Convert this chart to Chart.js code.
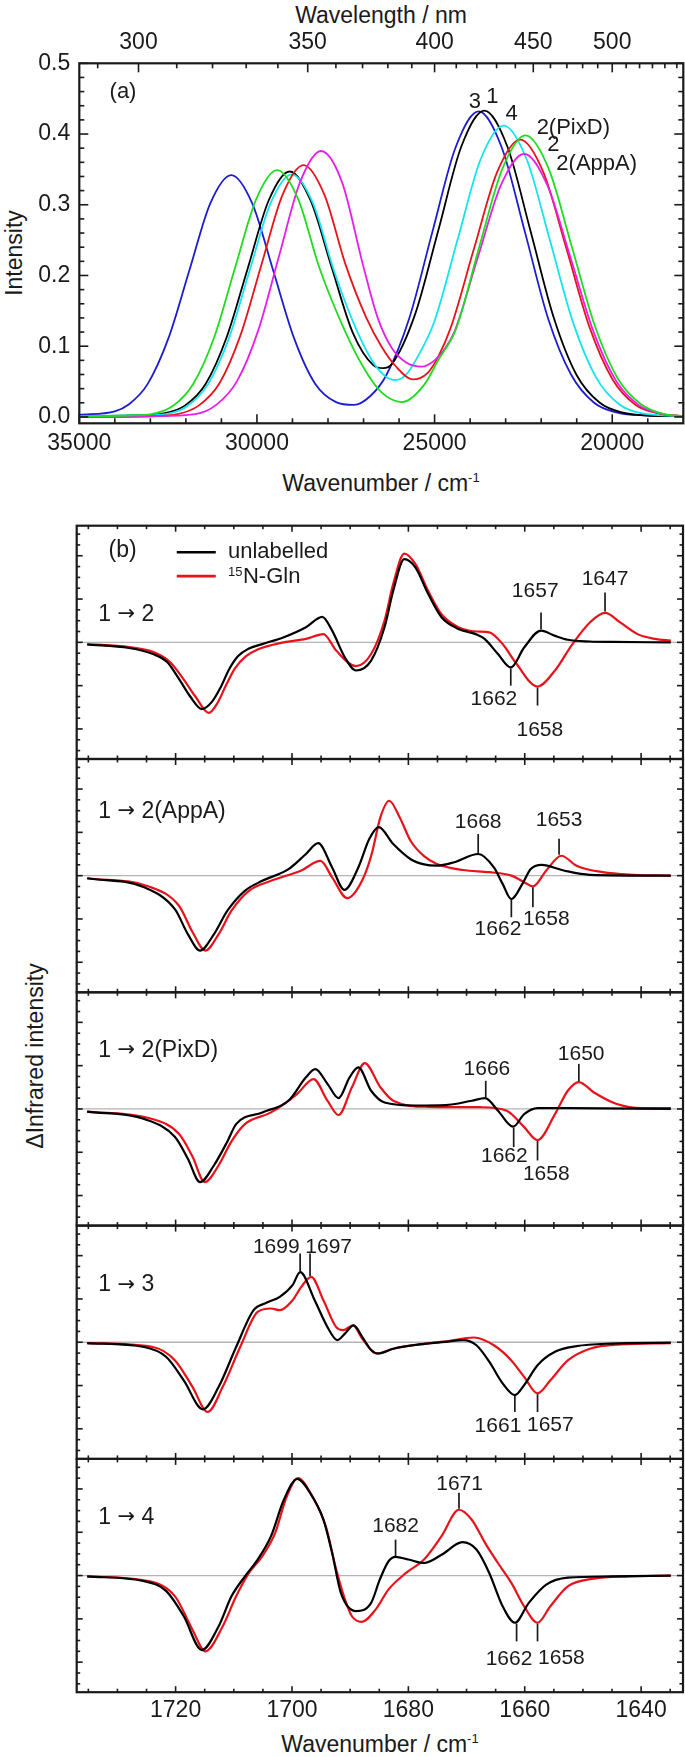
<!DOCTYPE html>
<html><head><meta charset="utf-8">
<script src="https://cdn.jsdelivr.net/npm/chart.js@4.4.1/dist/chart.umd.min.js"></script>
<style>
html,body{margin:0;padding:0;background:#fff;}
body{width:685px;height:1757px;position:relative;overflow:hidden;font-family:"Liberation Sans",Arial,Helvetica,sans-serif;color:#1a1a1a;}
canvas{position:absolute;left:0;}
.t{position:absolute;font-size:23px;line-height:1;white-space:nowrap;transform:translate(-50%,-50%);}
.r{transform:translate(-50%,-50%) rotate(-90deg);}
sup{font-size:13px;vertical-align:9px;line-height:0;}
</style></head><body>
<div class="t" style="left:381px;top:15px;">Wavelength / nm</div>
<div class="t" style="left:381px;top:483px;">Wavenumber / cm<sup>-1</sup></div>
<div class="t r" style="left:14px;top:253px;">Intensity</div>
<div class="t r" style="left:35px;top:1056px;">ΔInfrared intensity</div>
<div class="t" style="left:380px;top:1744px;">Wavenumber / cm<sup>-1</sup></div>
<script>
const FONT = '"Liberation Sans", Arial, Helvetica, sans-serif';
const ARROW_FONT = '"DejaVu Sans", "Liberation Sans", sans-serif';
const INK = '#1a1a1a';

// ================= Panel (a): UV-vis spectra [wavenumber, intensity] =================
const state3 = [[35000,0.003],[34000,0.008],[33600,0.018],[33083,0.046],[32493,0.111],[31903,0.207],[31313,0.302],[30723,0.342],[30133,0.302],[29543,0.207],[28953,0.111],[28363,0.047],[27773,0.021],[27272,0.017],[26800,0.03],[26360,0.059],[25710,0.140],[25060,0.262],[24410,0.381],[23760,0.432],[23110,0.381],[22460,0.262],[21810,0.140],[21160,0.060],[20510,0.02],[19860,0.006],[19000,0.002],[18000,0.001]];
const state1 = [[35000,0.001],[33500,0.002],[32620,0.005],[32030,0.016],[31440,0.047],[30850,0.113],[30260,0.21],[29670,0.306],[29080,0.347],[28490,0.306],[27900,0.212],[27310,0.12],[26720,0.073],[26450,0.069],[26200,0.075],[25550,0.145],[24900,0.263],[24250,0.382],[23600,0.433],[22950,0.382],[22300,0.263],[21650,0.141],[21000,0.059],[20350,0.02],[19700,0.006],[19000,0.002],[18000,0.001]];
const state4 = [[35000,0.001],[33500,0.002],[32560,0.004],[31970,0.015],[31380,0.046],[30790,0.111],[30200,0.208],[29610,0.303],[29020,0.343],[28430,0.303],[27840,0.208],[27300,0.135],[26800,0.083],[26400,0.058],[26101,0.052],[25800,0.06],[25400,0.092],[25006,0.135],[24356,0.25],[23706,0.364],[23056,0.412],[22406,0.364],[21756,0.25],[21106,0.134],[20456,0.056],[19806,0.018],[19156,0.005],[18000,0.001]];
const state2 = [[35000,0.0],[33000,0.001],[32230,0.004],[31640,0.016],[31050,0.048],[30460,0.116],[29870,0.216],[29280,0.314],[28690,0.356],[28100,0.314],[27510,0.216],[26920,0.14],[26500,0.1],[26100,0.072],[25610,0.053],[25200,0.062],[24900,0.085],[24540,0.127],[23890,0.238],[23240,0.346],[22590,0.392],[21940,0.346],[21290,0.238],[20640,0.127],[19990,0.053],[19340,0.017],[18690,0.005],[18000,0.001]];
const state2AppA = [[35000,0.0],[33000,0.001],[31736,0.004],[31146,0.017],[30556,0.051],[29966,0.122],[29376,0.228],[28786,0.332],[28196,0.376],[27606,0.332],[27016,0.215],[26600,0.14],[26200,0.097],[25800,0.077],[25361,0.071],[25000,0.08],[24700,0.097],[24437,0.121],[23780,0.226],[23130,0.328],[22480,0.372],[21830,0.328],[21180,0.226],[20530,0.121],[19880,0.05],[19230,0.016],[18580,0.004],[18000,0.001]];
const state2PixD = [[35000,0.001],[33600,0.002],[32970,0.004],[32380,0.015],[31790,0.047],[31200,0.113],[30610,0.212],[30020,0.308],[29430,0.349],[28840,0.308],[28250,0.212],[27518,0.121],[27000,0.07],[26500,0.035],[25916,0.021],[25300,0.045],[24900,0.08],[24390,0.125],[23740,0.241],[23090,0.351],[22440,0.398],[21790,0.351],[21140,0.241],[20490,0.129],[19840,0.054],[19190,0.018],[18540,0.004],[18000,0.001]];

const wavenumberMajorA = [35000,30000,25000,20000];
const wavenumberMinorA = [34000,33000,32000,31000,29000,28000,27000,26000,24000,23000,22000,21000,19000,18000];
const wavelengthMajor = [300,350,400,450,500];
const wavelengthMinor = [290,310,320,330,340,360,370,380,390,410,420,430,440,460,470,480,490,510,520,530,540,550];
const intensityMajor = [0.0,0.1,0.2,0.3,0.4,0.5];
const intensityMajorLabels = ['0.0','0.1','0.2','0.3','0.4','0.5'];
const intensityMinor = [0.02,0.04,0.06,0.08,0.12,0.14,0.16,0.18,0.22,0.24,0.26,0.28,0.32,0.34,0.36,0.38,0.42,0.44,0.46,0.48];
const panelALabels = [
  {x:33770,y:0.459,t:'(a)'},
  {x:23863,y:0.445,t:'3'},
  {x:23376,y:0.452,t:'1'},
  {x:22830,y:0.429,t:'4'},
  {x:21096,y:0.408,t:'2(PixD)'},
  {x:21659,y:0.384,t:'2'},
  {x:20438,y:0.358,t:'2(AppA)'}
];

// ================= Panel (b): difference IR spectra [wavenumber, ΔIR] =================
const t12_unlab = [[1735.2,-0.05],[1728.0,-0.13],[1723.9,-0.27],[1721.5,-0.45],[1719.4,-0.85],[1717.5,-1.25],[1715.5,-1.54],[1713.8,-1.38],[1712.3,-1.05],[1710.8,-0.62],[1709.3,-0.32],[1707.5,-0.15],[1705.1,-0.04],[1701.4,0.12],[1697.6,0.35],[1694.8,0.59],[1693.1,0.27],[1690.9,-0.35],[1689.0,-0.65],[1686.4,-0.42],[1684.1,0.35],[1682.6,1.19],[1680.7,1.92],[1678.8,1.73],[1676.6,1.12],[1674.3,0.58],[1671.4,0.31],[1668.4,0.19],[1666.9,0.08],[1664.6,-0.27],[1662.4,-0.58],[1660.1,-0.12],[1657.2,0.27],[1654.8,0.15],[1652.6,0.06],[1648.8,0.02],[1645.0,0.01],[1634.9,0.0]];
const t12_15N = [[1735.2,-0.04],[1728.0,-0.11],[1723.9,-0.22],[1721.0,-0.45],[1718.8,-0.82],[1716.6,-1.25],[1714.3,-1.63],[1712.8,-1.4],[1711.3,-0.98],[1709.8,-0.6],[1708.0,-0.33],[1706.0,-0.17],[1701.4,0.0],[1697.6,0.08],[1694.6,0.19],[1692.4,-0.19],[1689.0,-0.55],[1686.4,-0.27],[1684.1,0.5],[1682.6,1.35],[1680.7,2.05],[1678.8,1.81],[1676.6,1.19],[1674.3,0.65],[1671.4,0.35],[1668.3,0.25],[1666.1,0.23],[1663.8,-0.04],[1661.6,-0.46],[1657.8,-1.02],[1654.8,-0.65],[1651.8,-0.04],[1648.8,0.46],[1646.2,0.68],[1643.6,0.46],[1640.6,0.19],[1637.6,0.08],[1634.9,0.04]];

const t12A_unlab = [[1735.2,-0.06],[1725.4,-0.27],[1720.1,-0.78],[1717.9,-1.35],[1715.8,-1.73],[1713.4,-1.35],[1711.1,-0.81],[1708.1,-0.35],[1705.1,-0.12],[1700.6,0.15],[1697.6,0.5],[1695.5,0.75],[1693.1,0.19],[1691.0,-0.33],[1688.6,0.19],[1686.7,0.85],[1685.1,1.12],[1682.6,0.73],[1679.6,0.38],[1677.3,0.26],[1675.1,0.23],[1672.1,0.31],[1668.0,0.5],[1665.3,0.19],[1663.8,-0.19],[1662.3,-0.54],[1660.4,-0.19],[1659.0,0.15],[1657.1,0.25],[1653.3,0.12],[1648.8,0.02],[1634.9,0.0]];
const t12A_15N = [[1735.2,-0.06],[1724.6,-0.25],[1719.4,-0.7],[1717.1,-1.3],[1714.9,-1.73],[1712.6,-1.35],[1710.4,-0.81],[1707.4,-0.35],[1703.6,-0.12],[1698.4,0.12],[1695.1,0.34],[1693.1,-0.04],[1690.5,-0.52],[1687.9,-0.1],[1686.3,0.5],[1684.8,1.35],[1683.3,1.73],[1681.5,1.35],[1679.6,0.8],[1677.3,0.45],[1675.1,0.27],[1670.6,0.13],[1666.1,0.08],[1662.3,0.0],[1660.1,-0.15],[1658.6,-0.25],[1656.3,0.12],[1653.7,0.46],[1651.1,0.23],[1646.6,0.08],[1641.3,0.02],[1634.9,0.0]];

const t12P_unlab = [[1735.2,-0.06],[1725.4,-0.23],[1720.1,-0.65],[1717.9,-1.15],[1715.8,-1.69],[1713.4,-1.3],[1711.1,-0.75],[1709.6,-0.35],[1705.1,-0.08],[1700.6,0.19],[1697.6,0.73],[1696.0,0.92],[1693.9,0.58],[1692.0,0.25],[1690.1,0.73],[1688.6,0.96],[1686.4,0.42],[1684.1,0.15],[1678.8,0.08],[1673.6,0.09],[1669.1,0.19],[1666.8,0.25],[1664.6,-0.04],[1662.0,-0.41],[1660.1,-0.12],[1657.8,0.02],[1652.6,0.02],[1634.9,0.0]];
const t12P_15N = [[1735.2,-0.06],[1724.6,-0.21],[1719.4,-0.58],[1717.1,-1.1],[1715.0,-1.69],[1712.6,-1.3],[1710.4,-0.75],[1708.1,-0.35],[1703.6,-0.08],[1699.1,0.35],[1696.3,0.69],[1693.9,0.19],[1692.0,-0.14],[1689.7,0.5],[1687.5,1.06],[1684.8,0.5],[1682.6,0.19],[1676.6,0.05],[1667.6,0.04],[1663.1,-0.04],[1660.1,-0.42],[1657.8,-0.72],[1654.8,-0.12],[1652.6,0.42],[1650.7,0.62],[1648.1,0.38],[1644.3,0.12],[1639.8,0.02],[1634.9,0.02]];

const t13_unlab = [[1735.2,-0.02],[1725.4,-0.11],[1721.6,-0.34],[1718.6,-0.88],[1715.3,-1.55],[1712.6,-1.03],[1709.6,-0.11],[1706.6,0.74],[1704.4,0.91],[1702.1,1.05],[1699.9,1.32],[1698.6,1.62],[1696.1,0.97],[1693.9,0.35],[1692.2,0.05],[1690.9,0.2],[1689.4,0.39],[1687.9,0.12],[1686.4,-0.18],[1685.2,-0.26],[1682.6,-0.15],[1678.1,-0.05],[1673.6,0.01],[1670.6,0.05],[1668.3,-0.07],[1666.1,-0.45],[1663.8,-0.95],[1661.7,-1.22],[1660.1,-0.99],[1657.8,-0.53],[1654.8,-0.22],[1651.1,-0.09],[1645.1,-0.03],[1634.9,-0.01]];
const t13_15N = [[1735.2,-0.02],[1723.9,-0.11],[1720.1,-0.42],[1717.1,-1.03],[1714.5,-1.61],[1711.9,-1.03],[1708.9,-0.11],[1705.9,0.7],[1703.6,0.78],[1702.1,0.74],[1699.9,0.97],[1698.4,1.28],[1696.7,1.51],[1694.6,0.97],[1692.4,0.35],[1691.2,0.28],[1689.5,0.39],[1687.9,0.08],[1685.5,-0.26],[1682.6,-0.15],[1678.1,-0.05],[1673.6,0.02],[1668.7,0.11],[1665.3,-0.07],[1662.3,-0.42],[1660.1,-0.8],[1657.8,-1.18],[1655.6,-0.88],[1652.6,-0.42],[1648.8,-0.15],[1643.6,-0.05],[1634.9,-0.02]];

const t14_unlab = [[1735.2,-0.02],[1725.4,-0.13],[1721.6,-0.36],[1718.6,-0.94],[1715.5,-1.72],[1712.6,-1.17],[1710.4,-0.48],[1708.1,-0.02],[1705.9,0.37],[1703.6,0.91],[1701.4,1.75],[1699.1,2.23],[1696.9,1.91],[1694.6,1.29],[1693.1,0.52],[1691.6,-0.4],[1689.0,-0.82],[1686.4,-0.63],[1684.9,-0.09],[1683.4,0.33],[1682.2,0.43],[1680.0,0.37],[1677.3,0.29],[1674.3,0.48],[1670.7,0.77],[1668.3,0.6],[1666.1,0.06],[1663.8,-0.71],[1661.7,-1.09],[1659.3,-0.63],[1656.3,-0.21],[1652.6,-0.05],[1645.0,-0.02],[1634.9,0.0]];
const t14_15N = [[1735.2,-0.02],[1724.6,-0.13],[1720.1,-0.48],[1717.1,-1.25],[1714.9,-1.75],[1711.9,-1.17],[1709.6,-0.48],[1707.4,0.06],[1705.1,0.45],[1702.9,0.98],[1701.0,1.79],[1699.0,2.25],[1696.5,1.83],[1694.2,1.14],[1692.4,0.14],[1690.9,-0.55],[1689.7,-0.94],[1688.0,-1.07],[1685.6,-0.78],[1683.4,-0.32],[1680.4,0.06],[1677.3,0.37],[1674.3,0.91],[1671.3,1.52],[1669.1,1.29],[1666.8,0.75],[1664.6,0.29],[1662.3,-0.17],[1660.1,-0.71],[1657.8,-1.09],[1655.6,-0.71],[1652.6,-0.25],[1648.1,-0.07],[1642.1,-0.02],[1634.9,0.0]];

const irMajor = [1720,1700,1680,1660,1640];
const irMajorLabels = ['1720','1700','1680','1660','1640'];
const irMinor = [1735,1730,1725,1715,1710,1705,1695,1690,1685,1675,1670,1665,1655,1650,1645,1635];
const dIRMajor = [-2,-1,0,1,2];
const dIRMinor = [-2.5,-2.25,-1.75,-1.5,-1.25,-0.75,-0.5,-0.25,0.25,0.5,0.75,1.25,1.5,1.75,2.25,2.5];

const transitionFrom = ['1','1','1','1','1'];
const transitionTo = ['2','2(AppA)','2(PixD)','3','4'];
const transitionLabelY = [0.65,1.48,1.35,1.32,1.33];
const peakMarks = [
  [{x:1657.2,y0:0.30,y1:0.69,lx:1658.2,ly:1.17,t:'1657'},{x:1646.2,y0:0.71,y1:1.15,lx:1646.2,ly:1.46,t:'1647'},{x:1662.4,y0:-0.6,y1:-1.0,lx:1665.3,ly:-1.31,t:'1662'},{x:1657.8,y0:-1.04,y1:-1.46,lx:1657.4,ly:-2.04,t:'1658'}],
  [{x:1668.0,y0:0.52,y1:0.96,lx:1668.0,ly:1.23,t:'1668'},{x:1654.1,y0:0.48,y1:0.85,lx:1654.1,ly:1.27,t:'1653'},{x:1662.3,y0:-0.56,y1:-0.96,lx:1664.6,ly:-1.23,t:'1662'},{x:1658.6,y0:-0.27,y1:-0.73,lx:1656.3,ly:-1.0,t:'1658'}],
  [{x:1666.7,y0:0.27,y1:0.65,lx:1666.5,ly:0.92,t:'1666'},{x:1650.7,y0:0.64,y1:1.04,lx:1650.3,ly:1.27,t:'1650'},{x:1661.9,y0:-0.43,y1:-0.88,lx:1663.5,ly:-1.08,t:'1662'},{x:1657.8,y0:-0.74,y1:-1.19,lx:1656.3,ly:-1.5,t:'1658'}],
  [{x:1698.6,y0:1.64,y1:2.05,lx:1702.7,ly:2.2,t:'1699'},{x:1696.9,y0:1.53,y1:2.05,lx:1693.7,ly:2.2,t:'1697'},{x:1661.7,y0:-1.24,y1:-1.61,lx:1664.6,ly:-1.95,t:'1661'},{x:1657.8,y0:-1.2,y1:-1.61,lx:1655.6,ly:-1.92,t:'1657'}],
  [{x:1682.2,y0:0.45,y1:0.83,lx:1682.2,ly:1.14,t:'1682'},{x:1671.3,y0:1.54,y1:1.91,lx:1671.2,ly:2.12,t:'1671'},{x:1661.4,y0:-1.11,y1:-1.52,lx:1662.7,ly:-1.94,t:'1662'},{x:1657.8,y0:-1.11,y1:-1.52,lx:1653.7,ly:-1.9,t:'1658'}]
];

// ================= helpers =================
const toXY = a => a.map(p => ({x:p[0], y:p[1]}));
function addCanvas(top, h){
  const c = document.createElement('canvas');
  c.width = 685; c.height = h;
  c.style.top = top + 'px'; c.style.width = '685px'; c.style.height = h + 'px';
  document.body.appendChild(c);
  return c;
}
function line(ctx, x0, y0, x1, y1){ ctx.beginPath(); ctx.moveTo(x0,y0); ctx.lineTo(x1,y1); ctx.stroke(); }
function ds(data, color, w){ return {data: toXY(data), borderColor: color, borderWidth: w, pointRadius: 0, fill: false, cubicInterpolationMode: 'monotone'}; }
function baseOptions(pad, xmin, xmax, ymin, ymax){
  return {
    responsive:false, maintainAspectRatio:false, animation:false, devicePixelRatio:1,
    layout:{padding:pad},
    plugins:{legend:{display:false}, tooltip:{enabled:false}},
    scales:{
      x:{type:'linear', min:xmin, max:xmax, reverse:true, display:false},
      y:{type:'linear', min:ymin, max:ymax, display:false}
    }
  };
}

// ================= Panel (a) chart =================
(function(){
  const H = 500;
  const cv = addCanvas(0, H);
  const pad = {left:79.3, right:685-683.3, top:63.3, bottom:H-423.3};
  const frame = {
    id:'frameA',
    afterDraw(chart){
      const ctx = chart.ctx, a = chart.chartArea, xs = chart.scales.x, ys = chart.scales.y;
      ctx.save();
      ctx.strokeStyle = INK; ctx.lineWidth = 1.6;
      wavenumberMajorA.forEach(v => { const p = xs.getPixelForValue(v); line(ctx,p,a.bottom,p,a.bottom-9); });
      wavenumberMinorA.forEach(v => { const p = xs.getPixelForValue(v); if(p<a.right-1) line(ctx,p,a.bottom,p,a.bottom-5); });
      wavelengthMajor.forEach(v => { const p = xs.getPixelForValue(1e7/v); line(ctx,p,a.top,p,a.top+9); });
      wavelengthMinor.forEach(v => { const p = xs.getPixelForValue(1e7/v); if(p<a.right-1) line(ctx,p,a.top,p,a.top+5); });
      intensityMajor.forEach(v => { const p = ys.getPixelForValue(v); line(ctx,a.left,p,a.left+9,p); line(ctx,a.right,p,a.right-9,p); });
      intensityMinor.forEach(v => { const p = ys.getPixelForValue(v); line(ctx,a.left,p,a.left+5,p); line(ctx,a.right,p,a.right-5,p); });
      ctx.lineWidth = 2.2;
      ctx.strokeRect(a.left, a.top, a.right-a.left, a.bottom-a.top);
      ctx.fillStyle = INK; ctx.font = '23px ' + FONT; ctx.textBaseline = 'middle';
      ctx.textAlign = 'center';
      wavenumberMajorA.forEach(v => ctx.fillText(String(v), xs.getPixelForValue(v), a.bottom + 20));
      wavelengthMajor.forEach(v => ctx.fillText(String(v), xs.getPixelForValue(1e7/v), a.top - 20.6));
      ctx.textAlign = 'right';
      intensityMajor.forEach((v,i) => ctx.fillText(intensityMajorLabels[i], a.left - 9, ys.getPixelForValue(v)));
      ctx.textAlign = 'center';
      ctx.font = '22px ' + FONT;
      panelALabels.forEach(l => ctx.fillText(l.t, xs.getPixelForValue(l.x), ys.getPixelForValue(l.y)));
      ctx.restore();
    }
  };
  new Chart(cv, {
    type:'line',
    data:{datasets:[
      ds(state2PixD,'#1fdc1f',1.8),
      ds(state2AppA,'#e81ee8',1.8),
      ds(state2,'#e8121a',1.8),
      ds(state4,'#14e4ee',1.8),
      ds(state1,'#000000',1.8),
      ds(state3,'#1c1cd2',1.8)
    ]},
    options: baseOptions(pad, 18000, 35000, -0.009, 0.5),
    plugins:[frame]
  });
})();

// ================= Panel (b) charts =================
const panelData = [
  [t12_unlab, t12_15N],
  [t12A_unlab, t12A_15N],
  [t12P_unlab, t12P_15N],
  [t13_unlab, t13_15N],
  [t14_unlab, t14_15N]
];
const PB_TOP = 525.7, PB_H = 233.3, PB_LEFT = 76.7, PB_RIGHT = 683.0;
const DMAX = 2.694;

panelData.forEach((pair, i) => {
  const top = PB_TOP + i*PB_H, bottom = top + PB_H;
  const cTop = Math.floor(top) - 8;
  const cBottom = (i === 4) ? 1757 : Math.ceil(bottom) + 8;
  const H = cBottom - cTop;
  const cv = addCanvas(cTop, H);
  const pad = {left:PB_LEFT, right:685-PB_RIGHT, top: top - cTop, bottom: cBottom - bottom};
  const zero = {
    id:'zero'+i,
    beforeDatasetsDraw(chart){
      const ctx = chart.ctx, a = chart.chartArea, ys = chart.scales.y;
      ctx.save(); ctx.strokeStyle = '#b4b4b4'; ctx.lineWidth = 1.3;
      const z = ys.getPixelForValue(0); line(ctx, a.left, z, a.right, z);
      ctx.restore();
    }
  };
  const frame = {
    id:'frameB'+i,
    afterDraw(chart){
      const ctx = chart.ctx, a = chart.chartArea, xs = chart.scales.x, ys = chart.scales.y;
      ctx.save();
      ctx.strokeStyle = INK; ctx.lineWidth = 1.6;
      irMajor.forEach(v => { const p = xs.getPixelForValue(v); line(ctx,p,a.bottom,p,a.bottom-6); line(ctx,p,a.top,p,a.top+6); });
      irMinor.forEach(v => { const p = xs.getPixelForValue(v); line(ctx,p,a.bottom,p,a.bottom-3.5); line(ctx,p,a.top,p,a.top+3.5); });
      dIRMajor.forEach(v => { const p = ys.getPixelForValue(v); line(ctx,a.left,p,a.left+6,p); line(ctx,a.right,p,a.right-6,p); });
      dIRMinor.forEach(v => { const p = ys.getPixelForValue(v); line(ctx,a.left,p,a.left+3.5,p); line(ctx,a.right,p,a.right-3.5,p); });
      ctx.lineWidth = 2.2;
      ctx.strokeRect(a.left, a.top, a.right-a.left, a.bottom-a.top);
      // peak markers
      ctx.lineWidth = 1.7; ctx.strokeStyle = INK;
      ctx.fillStyle = INK; ctx.textBaseline = 'middle'; ctx.textAlign = 'center';
      ctx.font = '21px ' + FONT;
      peakMarks[i].forEach(m => {
        const px = xs.getPixelForValue(m.x);
        line(ctx, px, ys.getPixelForValue(m.y0), px, ys.getPixelForValue(m.y1));
        ctx.fillText(m.t, xs.getPixelForValue(m.lx), ys.getPixelForValue(m.ly));
      });
      // transition label: "1 → X"
      ctx.textAlign = 'left';
      let lx = xs.getPixelForValue(1733.3);
      const ly = ys.getPixelForValue(transitionLabelY[i]);
      ctx.font = '23px ' + FONT;
      ctx.fillText(transitionFrom[i] + ' ', lx, ly);
      lx += ctx.measureText(transitionFrom[i] + ' ').width;
      ctx.font = '21px ' + ARROW_FONT;
      ctx.fillText('\u2192', lx, ly);
      lx += ctx.measureText('\u2192').width;
      ctx.font = '23px ' + FONT;
      ctx.fillText(' ' + transitionTo[i], lx, ly);
      if (i === 0) {
        ctx.textAlign = 'center';
        ctx.fillText('(b)', xs.getPixelForValue(1729.1), ys.getPixelForValue(2.12));
        ctx.lineWidth = 2.6;
        ctx.strokeStyle = '#000';
        line(ctx, xs.getPixelForValue(1719.8), ys.getPixelForValue(2.08), xs.getPixelForValue(1713.1), ys.getPixelForValue(2.08));
        ctx.strokeStyle = '#e8121a';
        line(ctx, xs.getPixelForValue(1719.8), ys.getPixelForValue(1.53), xs.getPixelForValue(1713.1), ys.getPixelForValue(1.53));
        ctx.textAlign = 'left';
        const tx = xs.getPixelForValue(1711.0);
        ctx.font = '22px ' + FONT;
        ctx.fillText('unlabelled', tx, ys.getPixelForValue(2.08));
        const yy = ys.getPixelForValue(1.5);
        ctx.font = '13px ' + FONT;
        ctx.fillText('15', tx, yy - 5);
        const w = ctx.measureText('15').width;
        ctx.font = '22px ' + FONT;
        ctx.fillText('N-Gln', tx + w + 0.5, yy);
      }
      if (i === 4) {
        ctx.font = '23px ' + FONT;
        ctx.textAlign = 'center';
        irMajor.forEach((v,k) => ctx.fillText(irMajorLabels[k], xs.getPixelForValue(v), a.bottom + 18));
      }
      ctx.restore();
    }
  };
  new Chart(cv, {
    type:'line',
    data:{datasets:[ ds(pair[0],'#000000',2.2), ds(pair[1],'#e8121a',2.2) ]},
    options: baseOptions(pad, 1632.8, 1737.0, -DMAX, DMAX),
    plugins:[zero, frame]
  });
});
</script>
</body></html>
